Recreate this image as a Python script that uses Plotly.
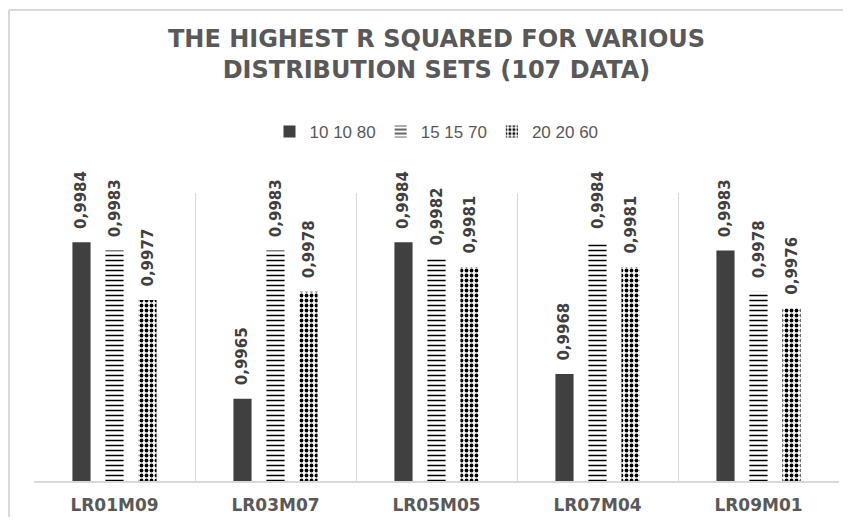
import plotly.graph_objects as go

categories = ["LR01M09", "LR03M07", "LR05M05", "LR07M04", "LR09M01"]
series_names = ["10 10 80", "15 15 70", "20 20 60"]
s1 = [0.9984, 0.9965, 0.9984, 0.9968, 0.9983]
s2 = [0.9983, 0.9983, 0.9982, 0.9984, 0.9978]
s3 = [0.9977, 0.9978, 0.9981, 0.9981, 0.9976]
y_range = [0.9955, 0.999]

# page body has an 8px margin, so figure coords = page coords - 8
OFF = 8
W, H = 851 - 2 * OFF, 525 - 2 * OFF
ML, MT = 34 - OFF, 193 - OFF
MR = W - (839 - OFF)
MB = H - (481 - OFF)
PW, PH = W - ML - MR, H - MT - MB

label_font = dict(family="DejaVu Sans", size=15, color="#404040", weight="bold")
common = dict(
    textposition="outside",
    textangle=-90,
    texttemplate="\u00a0\u00a0%{y:.4f}",
    textfont=label_font,
    cliponaxis=False,
    constraintext="none",
)

fig = go.Figure()
fig.add_trace(go.Bar(
    name=series_names[0], x=categories, y=s1,
    marker=dict(color="#404040", line=dict(width=0)), **common))
fig.add_trace(go.Bar(
    name=series_names[1], x=categories, y=s2,
    marker=dict(color="white", line=dict(width=0),
                pattern=dict(shape="-", fgcolor="black", bgcolor="white",
                             size=5, solidity=0.3, fillmode="replace")),
    **common))
fig.add_trace(go.Bar(
    name=series_names[2], x=categories, y=s3,
    marker=dict(color="white", line=dict(width=0),
                pattern=dict(shape=".", fgcolor="black", bgcolor="white",
                             size=5, solidity=0.45, fillmode="replace")),
    **common))

def px_x(p):
    return (p - OFF - ML) / PW

def px_y(p):
    return (H - MB - (p - OFF)) / PH

border = "#d9d9d9"
shapes = [
    dict(type="line", xref="paper", yref="paper",
         x0=px_x(9), x1=px_x(9), y0=px_y(10), y1=px_y(560),
         line=dict(color=border, width=2)),
    dict(type="line", xref="paper", yref="paper",
         x0=px_x(9), x1=px_x(900), y0=px_y(10), y1=px_y(10),
         line=dict(color=border, width=2)),
]

fig.update_layout(
    width=W, height=H,
    margin=dict(l=ML, r=MR, t=MT, b=MB, autoexpand=False),
    paper_bgcolor="white", plot_bgcolor="white",
    separators=",.",
    barmode="group",
    bargap=0.385,
    bargroupgap=0.45,
    title=dict(
        text="THE HIGHEST R SQUARED FOR VARIOUS<br>DISTRIBUTION SETS (107 DATA)",
        font=dict(family="DejaVu Sans", size=24, color="#595959", weight="bold"),
        x=0.5, xref="paper", xanchor="center",
        y=1 - (47 - OFF) / H, yref="container", yanchor="middle",
    ),
    legend=dict(
        orientation="h", x=0.5, xanchor="center",
        yref="container", y=1 - (132 - OFF) / H, yanchor="middle",
        font=dict(family="Liberation Sans", size=17, color="#595959"),
        itemwidth=30,
    ),
    xaxis=dict(
        type="category", tickson="boundaries", showgrid=True,
        gridcolor=border, gridwidth=1, ticks="",
        showline=True, linecolor=border, linewidth=2,
        tickfont=dict(family="DejaVu Sans", size=17, color="#595959", weight="bold"),
        ticklabelstandoff=8, automargin=False,
    ),
    yaxis=dict(range=y_range, visible=False),
    shapes=shapes,
    showlegend=True,
)

fig.write_html("out.html")
